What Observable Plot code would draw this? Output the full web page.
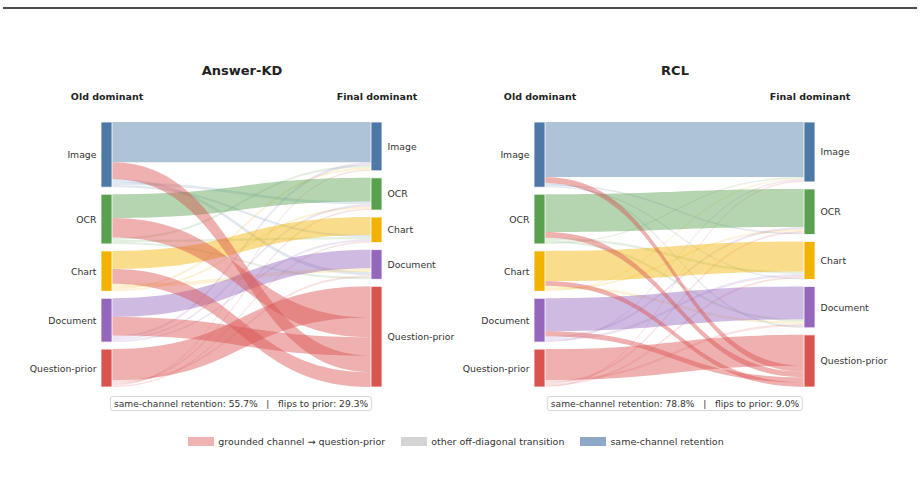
<!DOCTYPE html>
<html><head><meta charset="utf-8">
<script src="https://cdn.jsdelivr.net/npm/d3@7"></script>
<script src="https://cdn.jsdelivr.net/npm/@observablehq/plot@0.6"></script>
<style>
body{margin:0;background:#fff;font-family:"DejaVu Sans",sans-serif;}
#wrap{position:relative;width:921px;height:483px;overflow:hidden;background:#fff;}
#rule{position:absolute;left:3px;top:7px;width:914px;height:2px;background:#4d4d4d;}
#chart{position:absolute;left:0;top:0;}
.stat{position:absolute;top:396px;height:15px;box-sizing:border-box;padding:0 3px;border:1px solid #d3d7de;border-radius:3px;font-size:9.15px;color:#333;display:flex;align-items:center;justify-content:center;white-space:pre;background:#fff;transform:translateX(-50%);}
#legend{position:absolute;top:436px;left:0;width:912px;display:flex;justify-content:center;align-items:center;font-size:9.5px;color:#333;}
#legend .item{display:flex;align-items:center;margin:0 8px;}
#legend .sw{width:26px;height:9px;margin-right:4px;}
</style></head>
<body>
<div id="wrap">
  <div id="rule"></div>
  <div id="chart"></div>
  <div id="stats"></div>
  <div id="legend"></div>
</div>
<script>
// ---------- data ----------
const channels = ["Image", "OCR", "Chart", "Document", "Question-prior"];
const channelColors = ["#4e79a7", "#59a14f", "#f1b300", "#9467bd", "#d9534f"];
const panels = ["Answer-KD", "RCL"];
// rows = old dominant channel, columns = final dominant channel (samples per 1000)
const answerKD = [
  [170, 12, 9, 14, 70],
  [10, 100, 9, 8, 83],
  [9, 8, 76, 15, 62],
  [11, 9, 8, 79, 78],
  [6, 7, 6, 9, 132]
];
const rcl = [
  [232, 6, 5, 7, 25],
  [6, 160, 10, 10, 24],
  [5, 8, 127, 10, 20],
  [5, 10, 10, 139, 21],
  [5, 8, 8, 9, 130]
];
const legendLabels = ["grounded channel \u2192 question-prior", "other off-diagonal transition", "same-channel retention"];
const legendColors = ["#efb3b3", "#d4d4d4", "#8ea9c8"];

// ---------- layout ----------
const PAD = 29.5;
const PRIOR = channels.length - 1;
const matrices = [answerKD, rcl];
const nodes = [], ribbons = [], stats = [];
let maxTotal = 0;
matrices.forEach((M, p) => {
  const panel = panels[p];
  const n = channels.length;
  const rowTot = M.map(r => d3.sum(r));
  const colTot = channels.map((_, j) => d3.sum(M, r => r[j]));
  const total = d3.sum(rowTot);
  maxTotal = Math.max(maxTotal, total + (n - 1) * PAD);
  const leftY = [], rightY = [];
  let y = 0;
  rowTot.forEach((t, i) => { leftY.push(y); nodes.push({panel, side: "old", name: channels[i], color: channelColors[i], y0: y, y1: y + t}); y += t + PAD; });
  y = 0;
  colTot.forEach((t, j) => { rightY.push(y); nodes.push({panel, side: "final", name: channels[j], color: channelColors[j], y0: y, y1: y + t}); y += t + PAD; });
  const srcOff = {}, tgtOff = {};
  for (let i = 0; i < n; i++) {
    let acc = leftY[i];
    d3.range(n).sort((a, b) => M[i][b] - M[i][a]).forEach(j => { srcOff[i + "-" + j] = acc; acc += M[i][j]; });
  }
  for (let j = 0; j < n; j++) {
    let acc = rightY[j];
    d3.range(n).sort((a, b) => M[b][j] - M[a][j]).forEach(i => { tgtOff[i + "-" + j] = acc; acc += M[i][j]; });
  }
  const order = {other: 0, same: 1, prior: 2};
  const links = [];
  for (let i = 0; i < n; i++) for (let j = 0; j < n; j++) {
    const v = M[i][j];
    if (!v) continue;
    const kind = i === j ? "same" : (j === PRIOR ? "prior" : "other");
    const color = kind === "prior" ? channelColors[PRIOR] : channelColors[i];
    const op = kind === "other" ? 0.17 : 0.45;
    links.push({id: panel + i + "-" + j, kind, color, op, s: srcOff[i + "-" + j], t: tgtOff[i + "-" + j], v});
  }
  links.sort((a, b) => order[a.kind] - order[b.kind]);
  links.forEach(l => {
    ribbons.push({panel, id: l.id, x: 0, top: l.s, bot: l.s + l.v, color: l.color, op: l.op});
    ribbons.push({panel, id: l.id, x: 1, top: l.t, bot: l.t + l.v, color: l.color, op: l.op});
  });
  const ret = d3.sum(d3.range(n), i => M[i][i]) / total * 100;
  const flip = d3.sum(d3.range(PRIOR), i => M[i][PRIOR]) / total * 100;
  stats.push({panel, text: `same-channel retention: ${ret.toFixed(1)}%   |   flips to prior: ${flip.toFixed(1)}%`});
});

const W = 0.0425; // node width in link units
const left = nodes.filter(d => d.side === "old");
const right = nodes.filter(d => d.side === "final");

const chart = Plot.plot({
  width: 921, height: 420,
  marginLeft: 100, marginRight: 105, marginTop: 122, marginBottom: 33,
  style: {fontFamily: "DejaVu Sans", background: "transparent", color: "#333"},
  fx: {domain: panels, paddingInner: 0.35, paddingOuter: 0, axis: null},
  x: {domain: [-W, 1 + W], axis: null},
  y: {domain: [0, maxTotal], reverse: true, axis: null},
  color: {type: "identity"},
  marks: [
    Plot.areaY(ribbons, {fx: "panel", x: "x", y1: "top", y2: "bot", z: "id", fill: "color", fillOpacity: "op", curve: "bump-x"}),
    Plot.rect(nodes, {fx: "panel", x1: d => d.side === "old" ? -W : 1, x2: d => d.side === "old" ? 0 : 1 + W, y1: "y0", y2: "y1", fill: "color", stroke: "white", strokeWidth: 0.8}),
    Plot.text(left, {fx: "panel", x: -W, y: d => (d.y0 + d.y1) / 2, text: "name", textAnchor: "end", dx: -5, fontSize: 9.3, fill: "#333"}),
    Plot.text(right, {fx: "panel", x: 1 + W, y: d => (d.y0 + d.y1) / 2, text: "name", textAnchor: "start", dx: 5, fontSize: 9.3, fill: "#333"}),
    Plot.text(panels, {fx: d => d, frameAnchor: "top", lineAnchor: "middle", dy: -52, text: d => d, fontWeight: "bold", fontSize: 13, fill: "#222"}),
    Plot.text(panels, {fx: d => d, x: -W / 2, frameAnchor: "top", lineAnchor: "middle", dy: -26, text: () => "Old dominant", fontWeight: "bold", fontSize: 9.5, fill: "#222"}),
    Plot.text(panels, {fx: d => d, x: 1 + W / 2, frameAnchor: "top", lineAnchor: "middle", dy: -26, text: () => "Final dominant", fontWeight: "bold", fontSize: 9.5, fill: "#222"})
  ]
});
document.getElementById("chart").appendChild(chart);

// stats boxes under each panel
const statWrap = document.getElementById("stats");
const panelCenters = [241, 675];
stats.forEach((s, k) => {
  const div = document.createElement("div");
  div.className = "stat";
  div.style.left = panelCenters[k] + "px";
  div.textContent = s.text;
  statWrap.appendChild(div);
});

// legend
const lg = document.getElementById("legend");
legendLabels.forEach((lab, k) => {
  const it = document.createElement("div");
  it.className = "item";
  const sw = document.createElement("div");
  sw.className = "sw";
  sw.style.background = legendColors[k];
  const tx = document.createElement("span");
  tx.textContent = lab;
  it.appendChild(sw); it.appendChild(tx);
  lg.appendChild(it);
});
</script>
</body></html>
